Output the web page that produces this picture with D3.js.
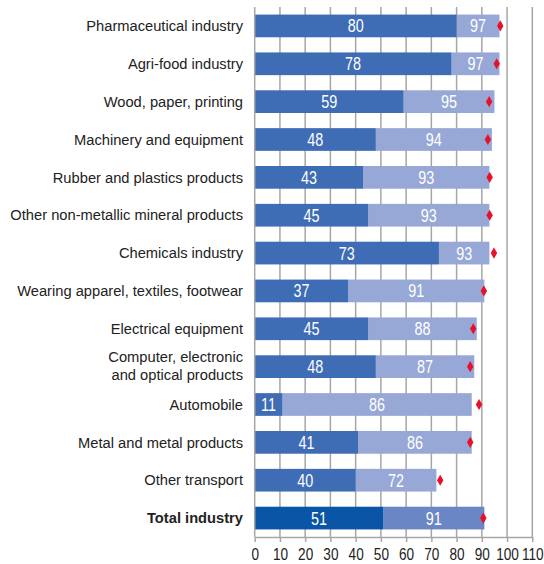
<!DOCTYPE html>
<html><head><meta charset="utf-8">
<script src="https://cdn.jsdelivr.net/npm/d3@7"></script>
<style>body{margin:0;background:#fff}</style>
</head><body>
<script>
const categories = ["Pharmaceutical industry","Agri-food industry","Wood, paper, printing","Machinery and equipment","Rubber and plastics products","Other non-metallic mineral products","Chemicals industry","Wearing apparel, textiles, footwear","Electrical equipment","Computer, electronic\nand optical products","Automobile","Metal and metal products","Other transport","Total industry"];
const firstValues = [80,78,59,48,43,45,73,37,45,48,11,41,40,51];
const secondValues = [97,97,95,94,93,93,93,91,88,87,86,86,72,91];
const markerValues = [97.3,95.9,92.9,92.4,93.1,93.1,94.8,90.8,86.6,85.4,88.9,85.4,73.5,90.6];
const xTicks = [0,10,20,30,40,50,60,70,80,90,100,110];

const W = 544, H = 564;
const svg = d3.select("body").append("svg").attr("width", W).attr("height", H);
const x = d3.scaleLinear().domain([0,110]).range([254.7,532.3]);
const y = d3.scaleBand().domain(categories).range([7,537]).paddingInner(0.4).paddingOuter(0.2);
const SANS = "'Liberation Sans',Arial,sans-serif";
const SX = 0.8;

svg.append("g").selectAll("line").data(xTicks.slice(1)).join("line")
  .attr("x1", d=>x(d)).attr("x2", d=>x(d)).attr("y1", 7).attr("y2", 537)
  .attr("stroke", "#a6a6a6").attr("stroke-width", 1.5);

const last = categories.length - 1;
const rows = categories.map((c,i)=>({c, i, a:firstValues[i], b:secondValues[i], m:markerValues[i]}));

svg.append("g").selectAll("rect").data(rows).join("rect")
  .attr("x", d=>x(d.a)).attr("width", d=>x(d.b)-x(d.a))
  .attr("y", d=>y(d.c)).attr("height", y.bandwidth())
  .attr("fill", d=>d.i===last ? "#6b86c4" : "#98a8d6");
svg.append("g").selectAll("rect").data(rows).join("rect")
  .attr("x", x(0)).attr("width", d=>x(d.a)-x(0))
  .attr("y", d=>y(d.c)).attr("height", y.bandwidth())
  .attr("fill", d=>d.i===last ? "#0a55a5" : "#3e6cb5");

const lab = svg.append("g").attr("font-family", SANS).attr("font-size", 18).attr("fill", "#fff").attr("text-anchor","middle");
lab.selectAll("text.a").data(rows).join("text").attr("class","a")
  .attr("transform", d=>`translate(${(x(0)+x(d.a))/2},${y(d.c)+y.bandwidth()/2}) scale(${SX},1)`)
  .attr("dy","0.36em").text(d=>d.a);
lab.selectAll("text.b").data(rows).join("text").attr("class","b")
  .attr("transform", d=>`translate(${(x(d.a)+x(d.b))/2},${y(d.c)+y.bandwidth()/2}) scale(${SX},1)`)
  .attr("dy","0.36em").text(d=>d.b);

svg.append("g").selectAll("path").data(rows).join("path")
  .attr("d", d3.symbol(d3.symbolDiamond, 36))
  .attr("transform", d=>`translate(${x(d.m)},${y(d.c)+y.bandwidth()/2})`)
  .attr("fill", "#e8102a");

svg.append("line").attr("x1", x(0)).attr("x2", x(0)).attr("y1", 7).attr("y2", 537)
  .attr("stroke", "#a6a6a6").attr("stroke-width", 1.5);

const xa = svg.append("g").attr("transform", "translate(0,537)")
  .call(d3.axisBottom(x).tickValues(xTicks).tickSize(5).tickSizeOuter(0).tickPadding(6));
xa.select(".domain").attr("stroke", "#a6a6a6").attr("stroke-width", 1.5);
xa.selectAll(".tick line").attr("stroke", "#a6a6a6").attr("stroke-width", 1.5);
xa.selectAll("text").attr("font-family", SANS).attr("font-size", 17).attr("fill", "#222")
  .attr("transform", `scale(${SX},1)`);

const cl = svg.append("g").attr("font-family", SANS).attr("font-size", 14.7).attr("fill", "#222").attr("text-anchor","end");
rows.forEach(d=>{
  const lines = d.c.split("\n");
  const cy = y(d.c)+y.bandwidth()/2;
  const t = cl.append("text").attr("x", 243).attr("y", cy - (lines.length-1)*9.5)
    .attr("font-weight", d.i===last ? "bold" : "normal");
  lines.forEach((ln,k)=>t.append("tspan").attr("x",243).attr("dy", k===0 ? "0.35em" : 18).text(ln));
});
</script>
</body></html>
